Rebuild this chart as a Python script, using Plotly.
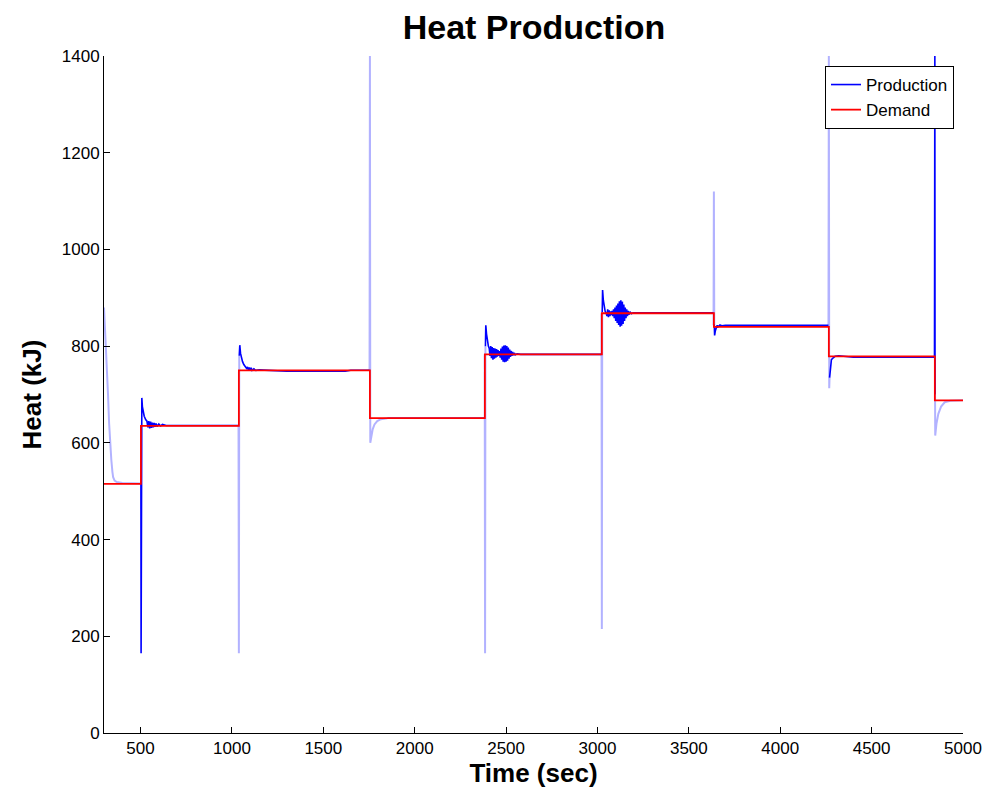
import plotly.graph_objects as go

# Demand (step) data
demand_time = [300, 502, 1038, 1755, 2384, 3024, 3637, 4266, 4846, 5000]
demand_heat = [515, 635, 750, 651, 783, 868, 840, 779, 688, 688]

# Production, drawn in full colour (None separates pieces)
prod_dark_time = [
    500, 502, 503, 505, 507, 510, 515, 520, 528, 535, 540, 545, 550, 555, 560, 565,
    570, 575, 580, 585, 590, 600, 610, 620, 640, 700, 1036, None,
    1040, 1043, 1047, 1052, 1058, 1065, 1072, 1080, 1085, 1090, 1095, 1100, 1105,
    1110, 1120, 1130, 1150, 1200, 1300, 1620, 1650, 1753, None,
    1850, 2383, None,
    2387, 2389, 2393, 2398, 2403, 2408, 2412, 2416, 2420, 2424, 2428, 2432, 2436,
    2440, 2444, 2448, 2452, 2456, 2460, 2464, 2468, 2472, 2476, 2480, 2484, 2488,
    2492, 2496, 2500, 2504, 2508, 2512, 2516, 2520, 2524, 2528, 2532, 2536, 2540,
    2545, 2550, 2560, 2580, 3022, None,
    3026, 3028, 3032, 3037, 3042, 3048, 3052, 3056, 3060, 3064, 3068, 3072, 3076,
    3080, 3084, 3088, 3092, 3096, 3100, 3104, 3108, 3112, 3116, 3120, 3124, 3128,
    3132, 3136, 3140, 3144, 3148, 3152, 3156, 3160, 3164, 3168, 3172, 3178, 3185,
    3195, 3635, None,
    3639, 3641, 3645, 3650, 3655, 3660, 3670, 3680, 3700, 4264, None,
    4270, 4274, 4280, 4290, 4300, 4320, 4400, 4844, 4846, 4847,
]
prod_dark_heat = [
    516, 516, 165, 640, 693, 675, 662, 655, 648, 645, 632, 645, 630, 644, 631, 642,
    632, 641, 633, 640, 634, 639, 635, 638, 636, 636, 636, None,
    780, 802, 785, 775, 768, 762, 758, 754, 757, 750, 756, 751, 755,
    750, 753, 750, 751, 750, 748, 748, 750, 750, None,
    651, 651, None,
    800, 843, 825, 810, 800, 795, 780, 800, 775, 798, 772, 796, 774,
    795, 776, 794, 778, 792, 780, 790, 776, 795, 772, 799, 768, 801,
    767, 802, 768, 800, 770, 797, 774, 793, 778, 790, 780, 788, 781,
    786, 782, 784, 783, 783, None,
    870, 916, 895, 880, 872, 868, 862, 876, 860, 874, 862, 872, 864,
    873, 862, 876, 858, 880, 852, 884, 848, 888, 844, 893, 840, 895,
    842, 892, 846, 886, 852, 880, 858, 876, 862, 873, 865, 871, 867,
    869, 869, None,
    845, 822, 832, 838, 843, 840, 844, 842, 843, 843, None,
    735, 760, 772, 776, 779, 780, 777, 777, 1400, 700,
]

# Production, fast transients that render faint
prod_light_time = [
    300, 305, 310, 316, 322, 328, 333, 340, 346, 350, 358, 370, 400, 500, None,
    1036, 1038, 1040, None,
    1753, 1755, 1757, 1762, 1770, 1780, 1795, 1815, 1850, None,
    2383, 2385, 2387, None,
    3022, 3024, 3026, None,
    3635, 3637, 3639, None,
    4264, 4266, 4268, 4270, None,
    4847, 4848, 4855, 4865, 4880, 4900, 4930, 5000,
]
prod_light_heat = [
    880, 830, 790, 757, 700, 640, 600, 565, 540, 529, 522, 519, 517, 516, None,
    636, 165, 780, None,
    750, 1400, 600, 615, 628, 638, 645, 649, 651, None,
    783, 165, 800, None,
    868, 215, 870, None,
    843, 1120, 845, None,
    843, 1400, 713, 735, None,
    700, 615, 640, 660, 675, 684, 687, 688,
]

x_ticks = [500, 1000, 1500, 2000, 2500, 3000, 3500, 4000, 4500, 5000]
y_ticks = [0, 200, 400, 600, 800, 1000, 1200, 1400]

FONT = "Liberation Sans"

fig = go.Figure()
fig.add_trace(go.Scatter(
    x=prod_light_time, y=prod_light_heat, mode="lines",
    line=dict(color="rgba(0,0,255,0.3)", width=2),
    showlegend=False, legendgroup="prod", hoverinfo="skip",
))
fig.add_trace(go.Scatter(
    x=prod_dark_time, y=prod_dark_heat, mode="lines", name="Production",
    line=dict(color="rgb(0,0,255)", width=1.6), legendgroup="prod",
))
fig.add_trace(go.Scatter(
    x=demand_time, y=demand_heat, mode="lines", name="Demand",
    line=dict(color="rgb(255,0,0)", width=1.8, shape="hv"),
))

fig.update_layout(
    template="none",
    width=998, height=791,
    margin=dict(l=96, r=43, t=48, b=66, autoexpand=False),
    paper_bgcolor="white", plot_bgcolor="white",
    font=dict(family=FONT, color="black", size=17),
    title=dict(text="<b>Heat Production</b>", x=526 / 998, xanchor="center",
               y=1 - 19 / 791, yanchor="middle", yref="container",
               font=dict(family=FONT, size=34, color="black")),
    legend=dict(x=(954 - 104) / 859, xanchor="right", y=(733 - 66) / 677, yanchor="top",
                bgcolor="white", bordercolor="black", borderwidth=1,
                font=dict(family=FONT, size=17, color="black"),
                tracegroupgap=0, itemwidth=30),
    showlegend=True,
)
fig.update_xaxes(
    range=[300, 5000], tickvals=x_ticks, ticktext=[str(v) for v in x_ticks],
    showgrid=False, zeroline=False, showline=True, linecolor="black", linewidth=1,
    ticks="inside", ticklen=6, tickcolor="black", automargin=False,
    tickfont=dict(family=FONT, size=17, color="black"),
    title=dict(text="<b>Time (sec)</b>", font=dict(family=FONT, size=26, color="black"), standoff=4),
)
fig.update_yaxes(
    range=[0, 1400], tickvals=y_ticks, ticktext=[str(v) for v in y_ticks],
    showgrid=False, zeroline=False, showline=True, linecolor="black", linewidth=1,
    ticks="inside", ticklen=6, tickcolor="black", automargin=False,
    tickfont=dict(family=FONT, size=17, color="black"),
    title=dict(text="<b>Heat (kJ)</b>", font=dict(family=FONT, size=26, color="black"), standoff=12),
)

fig.write_html("out.html")
